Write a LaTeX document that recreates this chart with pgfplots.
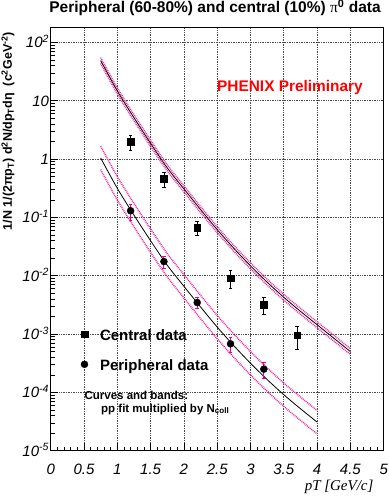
\documentclass[border=0pt]{standalone}
\usepackage{fontspec}
\setmainfont{Liberation Sans}
\newfontfamily\serifface{Liberation Serif}
\usepackage{pgfplots}
\usepackage{pgfplotstable}
\pgfplotsset{compat=1.18}

% decade label in the tick font
\newcommand{\dec}[1]{\textit{10}\textsuperscript{\textit{#1}}}

% central data: pT, yield, error
\pgfplotstableread{
x    y        ey
1.2  2.0      0.6
1.7  0.46     0.13
2.2  0.067    0.0185
2.7  0.0091   0.0031
3.2  0.0032   0.00105
3.7  0.00095  0.0004
}\centraldata

% peripheral data: pT, yield, error
\pgfplotstableread{
x    y        ey
1.2  0.13     0.04
1.7  0.0175   0.004
2.2  0.00347  0.0007
2.7  0.00068  0.0002
3.2  0.00025  0.00008
}\peripheraldata

% pp fit times Ncoll (central), with lower/upper band
\pgfplotstableread{
x     fit       lo        hi
0.75  48.98     43.65     54.95
1.00  14.79     13.18     16.60
1.25  5.13      4.57      5.75
1.50  1.862     1.660     2.089
1.75  0.708     0.631     0.794
2.00  0.309     0.2754    0.3467
2.25  0.1365    0.1216    0.1531
2.50  0.0617    0.0550    0.0692
2.75  0.0295    0.0263    0.0331
3.00  0.01479   0.01318   0.01660
3.25  0.00776   0.00692   0.00871
3.50  0.00427   0.00381   0.00479
3.75  0.002455  0.002188  0.002754
4.00  0.001445  0.001288  0.001622
4.25  0.000851  0.000759  0.000955
4.50  0.000501  0.000447  0.000562
}\centralfit

% pp fit times Ncoll (peripheral), with lower/upper band
\pgfplotstableread{
x     fit       lo        hi
0.75  1.047     0.661     1.660
1.00  0.316     0.1995    0.501
1.25  0.1096    0.0692    0.1738
1.50  0.0398    0.02512   0.0631
1.75  0.01514   0.00955   0.0240
2.00  0.00661   0.00417   0.01047
2.25  0.002917  0.00184   0.00462
2.50  0.001318  0.000832  0.002089
2.75  0.000631  0.000398  0.001000
3.00  0.000316  0.0001995 0.000501
3.25  0.000166  0.0001047 0.000263
3.50  0.0000912 0.0000575 0.0001445
3.75  0.0000525 0.0000331 0.0000832
4.00  0.0000309 0.0000195 0.0000490
}\peripheralfit

\pgfplotsset{band/.style={color=magenta!85!white, line width=1.5pt, dash pattern=on 0.9pt off 0.9pt, smooth, forget plot}}

\begin{document}
\begin{tikzpicture}
\useasboundingbox (-50.7pt,-49.3pt) rectangle (337.3pt,450.7pt);
\begin{axis}[
  scale only axis,
  width=333pt, height=423.4pt,
  xmin=0, xmax=5,
  ymode=log, ymin=1e-5, ymax=182,
  xtick={0,0.5,1,1.5,2,2.5,3,3.5,4,4.5,5},
  xticklabels={0,0.5,1,1.5,2,2.5,3,3.5,4,4.5,5},
  minor x tick num=4,
  ytick={1e-5,1e-4,1e-3,1e-2,1e-1,1,10,100},
  yticklabels={\dec{-5},\dec{-4},\dec{-3},\dec{-2},\dec{-1},\textit{1},\textit{10},\dec{2}},
  xtick pos=bottom, ytick pos=left,
  tick align=inside,
  major tick length=7.5pt, minor tick length=4pt,
  every tick/.style={black, line width=0.6pt},
  axis line style={line width=1pt},
  grid=major,
  major grid style={black!70, line width=0.6pt, dash pattern=on 0.6pt off 1.1pt},
  xticklabel style={font=\fontsize{15}{18}\selectfont\itshape, anchor=base, inner sep=0pt, yshift=-23.3pt},
  yticklabel style={font=\fontsize{15}{18}\selectfont\itshape, anchor=base east, inner sep=0pt, xshift=-1.5pt, yshift=-5.4pt},
  title={Peripheral (60-80\%) and central (10\%) {\serifface\mdseries π}\textsuperscript{0} data},
  title style={font=\fontsize{15.5}{18}\selectfont\bfseries, at={(axis description cs:0.4934,1)}, anchor=base, yshift=9pt, inner sep=0pt},
  xlabel={{\serifface\itshape pT [GeV/c]}},
  xlabel style={font=\fontsize{15}{18}\selectfont, at={(axis description cs:1,0)}, anchor=base east, xshift=-10pt, yshift=-40pt, inner sep=0pt},
  ylabel={1/N 1/(2πp\textsubscript{T}) d\textsuperscript{2}N/dp\textsubscript{T}dη\ \ (c\textsuperscript{2}GeV\textsuperscript{-2})},
  ylabel style={font=\fontsize{12.5}{15}\selectfont\bfseries, at={(axis description cs:-0.1282,0.9889)}, anchor=east, inner sep=0pt},
  legend style={draw=none, fill=none, inner sep=0pt, row sep=16pt, column sep=12pt,
    font=\fontsize{15}{18}\selectfont\bfseries,
    nodes={inner sep=0pt, text height=13pt, text depth=1pt},
    at={(axis description cs:0.0904,0.2395)}, anchor=west},
  legend image code/.code={\draw[#1] plot coordinates {(0pt,0pt)};},
  legend cell align=left,
]
% bands and fitted curves
\addplot[band] table[x=x,y=hi] {\centralfit};
\addplot[band] table[x=x,y=lo] {\centralfit};
\addplot[black, line width=0.8pt, smooth, forget plot] table[x=x,y=fit] {\centralfit};
\addplot[band] table[x=x,y=hi] {\peripheralfit};
\addplot[band] table[x=x,y=lo] {\peripheralfit};
\addplot[black, line width=0.8pt, smooth, forget plot] table[x=x,y=fit] {\peripheralfit};
% data points
\addplot[black, only marks, mark=square*, mark size=3.3pt,
  error bars/y dir=both, error bars/y explicit,
  error bars/error bar style={black, line width=0.8pt},
  error bars/error mark options={rotate=90, mark size=1.8pt, black, line width=0.8pt}]
  table[x=x, y=y, y error=ey] {\centraldata};
\addlegendentry{Central data}
\addplot[black, only marks, mark=*, mark size=3.5pt,
  error bars/y dir=both, error bars/y explicit,
  error bars/error bar style={magenta, line width=0.9pt},
  error bars/error mark options={rotate=90, mark size=1.8pt, magenta, line width=0.9pt}]
  table[x=x, y=y, y error=ey] {\peripheraldata};
\addlegendentry{Peripheral data}
% annotations
\node[anchor=base west, inner sep=0pt, text=red, font=\fontsize{15.4}{18}\selectfont\bfseries]
  at (axis description cs:0.4994,0.848) {PHENIX Preliminary};
\node[anchor=base west, inner sep=0pt, font=\fontsize{11.5}{13}\selectfont\bfseries]
  at (axis description cs:0.1012,0.1219) {Curves and bands:};
\node[anchor=base west, inner sep=0pt, font=\fontsize{11.5}{13}\selectfont\bfseries]
  at (axis description cs:0.1510,0.0911) {pp fit multiplied by N\textsubscript{coll}};
\end{axis}
\end{tikzpicture}
\end{document}
